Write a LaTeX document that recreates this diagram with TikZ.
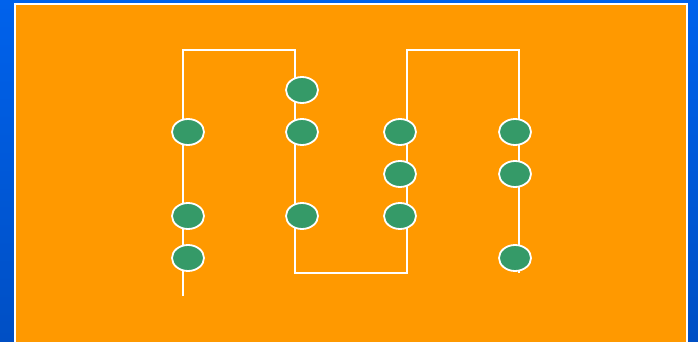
\documentclass[tikz,border=0pt]{standalone}
\usetikzlibrary{shapes.geometric}
\definecolor{bgtop}{HTML}{0062EC}
\definecolor{bgbot}{HTML}{004FC4}
\definecolor{panel}{HTML}{FF9900}
\definecolor{bead}{HTML}{359A68}
\tikzset{
  wire/.style={draw=white, line width=2pt},
  beadnode/.style={ellipse, draw=white, line width=1.8pt, fill=bead, minimum width=32pt, minimum height=26pt, inner sep=0pt}
}
\begin{document}
\begin{tikzpicture}[x=1pt,y=-1pt]
\useasboundingbox (0,0) rectangle (698,342);
\shade[top color=bgtop, bottom color=bgbot] (0,0) rectangle (698,342);
\draw[fill=panel, draw=white, line width=2pt] (15,4) rectangle (687,345);
% wire path
\coordinate (w0) at (183,296);
\coordinate (w1) at (183,50);
\coordinate (w2) at (295,50);
\coordinate (w3) at (295,273);
\coordinate (w4) at (407,273);
\coordinate (w5) at (407,50);
\coordinate (w6) at (519,50);
\coordinate (w7) at (519,273);
\draw[wire] (w0) -- (w1) -- (w2) -- (w3) -- (w4) -- (w5) -- (w6) -- (w7);
% beads
\node[beadnode] (a1) at (188,132) {};
\node[beadnode] (a2) at (188,216) {};
\node[beadnode] (a3) at (188,258) {};
\node[beadnode] (b0) at (302,90) {};
\node[beadnode] (b1) at (302,132) {};
\node[beadnode] (b2) at (302,216) {};
\node[beadnode] (c1) at (400,132) {};
\node[beadnode] (c2) at (400,174) {};
\node[beadnode] (c3) at (400,216) {};
\node[beadnode] (d1) at (515,132) {};
\node[beadnode] (d2) at (515,174) {};
\node[beadnode] (d3) at (515,258) {};
\end{tikzpicture}
\end{document}
